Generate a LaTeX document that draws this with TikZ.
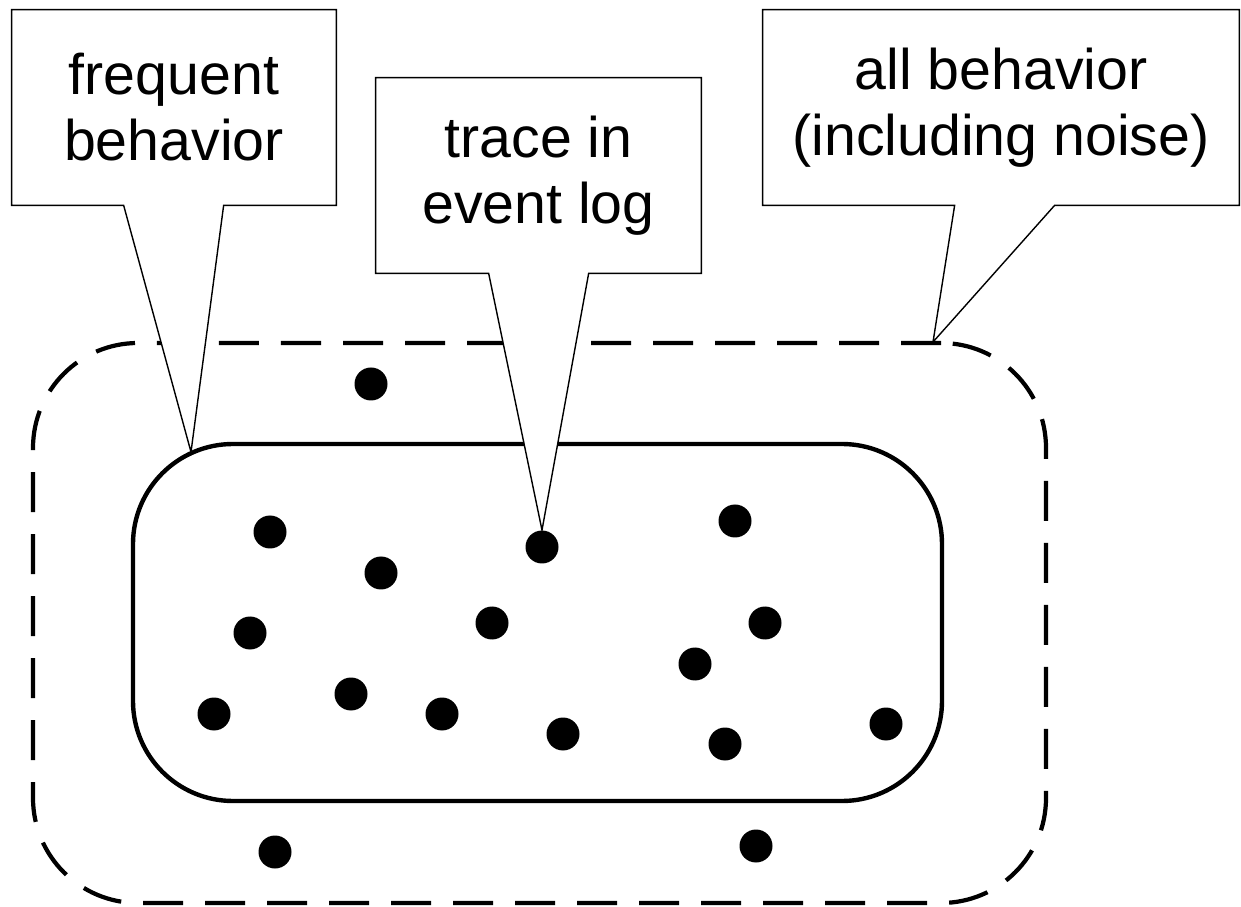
\documentclass[tikz,border=0pt]{standalone}
\usepackage{fontspec}
\setmainfont{Liberation Sans}
\usetikzlibrary{positioning}

\begin{document}
\begin{tikzpicture}[
  labelbox/.style={minimum height=3.9cm, inner sep=0pt, align=center,
                   font=\fontsize{32.6pt}{37.6pt}\selectfont},
  callout/.style={draw, line width=0.8pt, line join=miter},
  allset/.style={draw, dash pattern=on 0.8cm off 0.44cm, line width=2.4pt,
                 rounded corners=2.1cm, minimum width=20.26cm, minimum height=11.2cm},
  freqset/.style={draw, line width=2.5pt, rounded corners=2cm,
                  minimum width=16.18cm, minimum height=7.14cm},
  tracedot/.style={circle, fill, inner sep=0pt, minimum size=0.66cm}
]
  \useasboundingbox (0,0) rectangle (24.82,-18.14);

  % the two sets of behavior
  \node[allset] (all) at (10.79,-12.46) {};
  \node[freqset] (freq) at (10.75,-12.45) {};

  % traces
  \foreach \x/\y [count=\i] in {7.42/-7.68, 5.40/-10.64, 7.62/-11.46, 10.84/-10.94,
      14.70/-10.42, 5.00/-12.66, 9.84/-12.46, 15.30/-12.46, 13.90/-13.28,
      4.28/-14.28, 7.02/-13.88, 8.84/-14.28, 11.26/-14.68, 14.50/-14.88,
      17.72/-14.48, 5.50/-17.04, 15.12/-16.92}
    \node[tracedot] (d\i) at (\x,\y) {};

  % callouts
  \coordinate (freqtip) at (3.82,-9.04);
  \coordinate (alltip) at (18.66,-6.84);

  \node[labelbox, minimum width=6.48cm] (fb) at (3.48,-2.15) {frequent\\behavior};
  \node[labelbox, minimum width=6.5cm] (tl) at (10.77,-3.51) {trace in\\event log};
  \node[labelbox, minimum width=9.52cm] (ab) at (20.02,-2.15) {all behavior\\(including noise)};

  \fill[white] ([xshift=2.24cm]fb.south west) -- (freqtip) -- ([xshift=4.24cm]fb.south west) -- cycle;
  \draw[callout] (fb.south west) -- (fb.north west) -- (fb.north east) -- (fb.south east)
    -- ([xshift=4.24cm]fb.south west) -- (freqtip) -- ([xshift=2.24cm]fb.south west) -- cycle;

  \fill[white] ([xshift=2.26cm]tl.south west) -- (d4.north) -- ([xshift=4.26cm]tl.south west) -- cycle;
  \draw[callout] (tl.south west) -- (tl.north west) -- (tl.north east) -- (tl.south east)
    -- ([xshift=4.26cm]tl.south west) -- (d4.north) -- ([xshift=2.26cm]tl.south west) -- cycle;

  \fill[white] ([xshift=3.84cm]ab.south west) -- (alltip) -- ([xshift=5.84cm]ab.south west) -- cycle;
  \draw[callout] (ab.south west) -- (ab.north west) -- (ab.north east) -- (ab.south east)
    -- ([xshift=5.84cm]ab.south west) -- (alltip) -- ([xshift=3.84cm]ab.south west) -- cycle;

\end{tikzpicture}
\end{document}
